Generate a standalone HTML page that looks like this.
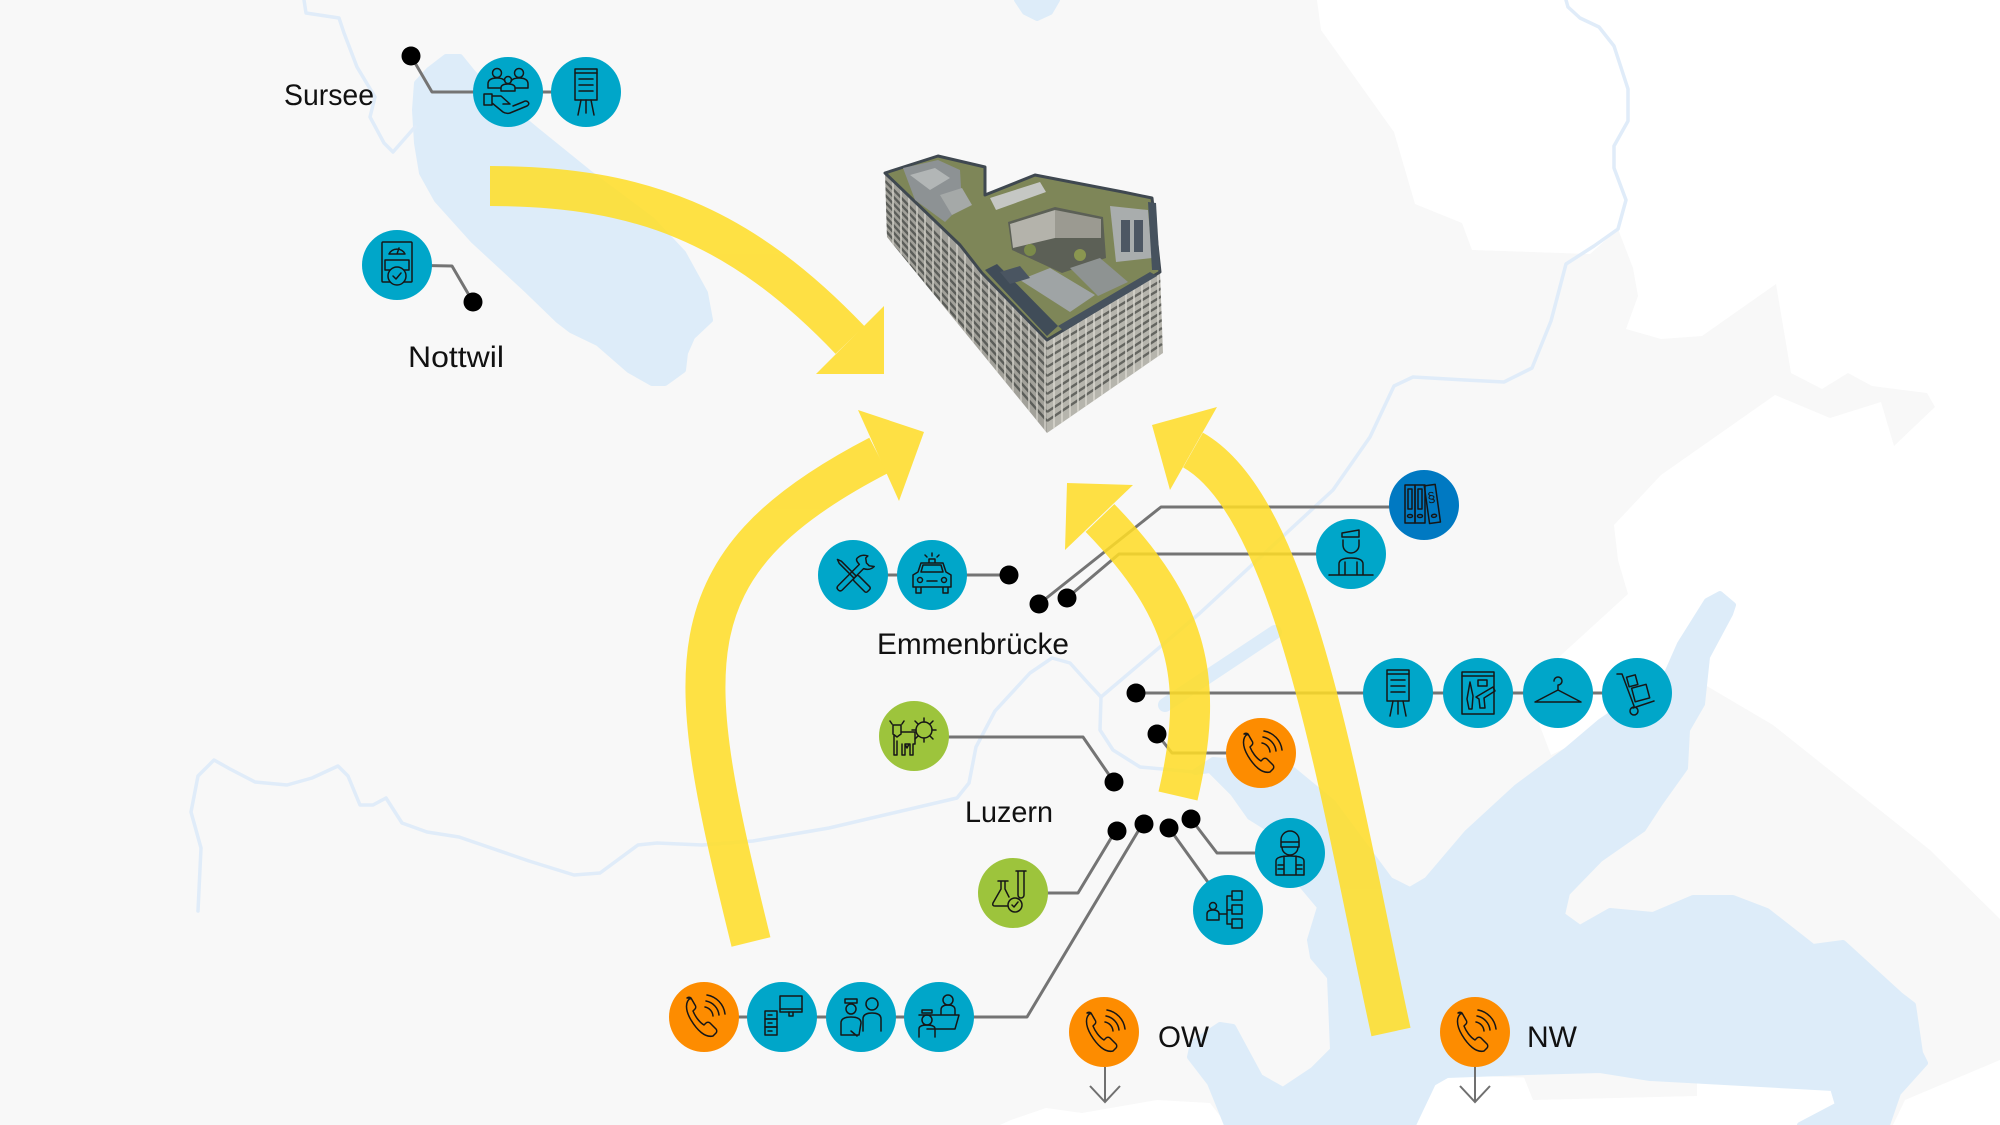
<!DOCTYPE html>
<html>
<head>
<meta charset="utf-8">
<style>
html,body{margin:0;padding:0;background:#f8f8f8;}
svg{display:block;}
text{font-family:"Liberation Sans",Arial,sans-serif;}
</style>
</head>
<body>
<svg xmlns="http://www.w3.org/2000/svg" width="2000" height="1125" viewBox="0 0 2000 1125">
<defs>
<clipPath id="lf"><polygon points="885,173 960,243 982,263 1047,340 1047,433 887,237"/></clipPath>
<clipPath id="rf"><polygon points="1047,340 1160,272 1163,353 1047,433"/></clipPath>
</defs>
<rect width="2000" height="1125" fill="#f8f8f8"/>

<!-- white areas outside canton -->
<path fill="#ffffff" d="M1317,0 L2000,0 L2000,919 L1930,850 L1773,725 L1700,682 L1551,755 L1530,700 L1559,657 L1628,594 L1618,560 L1614,525 L1661,475 L1775,395 L1830,418 L1881,402 L1894,446 L1935,407 L1927,393 L1872,386 L1848,373 L1822,389 L1791,373 L1776,284 L1702,336 L1661,339 L1626,329 L1638,296 L1633,268 L1618,229 L1590,254 L1472,250 L1462,223 L1415,204 L1394,132 L1321,30 Z"/>
<path fill="#ffffff" d="M2000,1060 L1905,1100 L1893,1125 L2000,1125 Z"/>
<path fill="#ffffff" d="M1413,1125 L1433,1083 L1447,1075 L1833,1088 L1838,1105 L1800,1125 Z"/>
<path fill="#f8f8f8" d="M1523,1075 L1533,1100 L1697,1096 L1697,1078 Z"/>
<path fill="#ffffff" d="M1000,1125 L1011,1120 L1046,1108 L1082,1113 L1157,1100 L1210,1103 L1227,1125 Z"/>

<!-- lakes -->
<g fill="#ddecf9" stroke="#ddecf9" stroke-width="6" stroke-linejoin="round">
<path d="M446,57 L460,57 L473,73 L500,100 L536,130 L589,173 L652,220 L683,253 L705,293 L710,320 L692,337 L685,353 L683,370 L665,383 L652,383 L629,370 L598,343 L571,330 L558,320 L527,290 L473,240 L437,200 L422,173 L417,143 L415,110 L417,83 L429,70 Z"/>
<path d="M1017,0 L1057,0 L1050,12 L1037,18 L1025,12 Z"/>
<path d="M1195,772 L1210,770 L1233,793 L1250,817 L1287,840 L1300,883 L1320,907 L1310,940 L1313,957 L1330,977 L1333,1050 L1313,1070 L1283,1090 L1260,1077 L1233,1027 L1220,1025 L1193,1043 L1190,1057 L1210,1083 L1227,1125 L1413,1125 L1433,1083 L1447,1075 L1527,1072 L1600,1070 L1650,1078 L1833,1088 L1838,1105 L1800,1125 L1887,1125 L1898,1093 L1925,1063 L1920,1053 L1913,1005 L1900,995 L1843,943 L1813,947 L1767,911 L1733,898 L1693,898 L1653,915 L1610,911 L1580,928 L1562,915 L1567,893 L1600,859 L1643,829 L1660,803 L1685,768 L1687,730 L1702,704 L1707,657 L1730,614 L1733,605 L1720,594 L1707,601 L1680,644 L1665,678 L1600,722 L1567,750 L1517,787 L1467,833 L1427,880 L1410,890 L1390,880 L1333,803 L1293,770 L1240,762 L1213,760 Z"/>
</g>
<path d="M1165,705 L1275,632" stroke="#ddecf9" stroke-width="14" stroke-linecap="round"/>

<!-- rivers -->
<g fill="none" stroke="#e0ecf9" stroke-width="3.5" stroke-linejoin="round" stroke-linecap="round">
<polyline points="304,0 306,13 339,18 344,33 357,67 375,97 370,117 384,143 393,152 415,127"/>
<polyline points="198,911 201,848 191,812 198,776 214,760 230,769 255,782 287,785 312,778 338,766 348,776 360,805 373,805 386,798 402,823 427,832 459,837 529,861 574,875 600,873 638,845 657,843 702,845 753,841 829,828 957,798 969,783 976,747 995,711 1030,673 1052,658 1070,663 1088,683 1101,697"/>
<polyline points="1101,697 1200,613 1333,490 1370,437 1394,386 1413,377 1465,380 1504,382 1532,368 1551,321 1566,264 1594,246 1618,229 1626,200 1614,168 1614,146 1628,121 1628,89 1614,46 1599,27 1580,18 1568,7 1566,0"/>
<polyline points="1101,697 1100,730 1113,750 1140,767 1195,772"/>
</g>

<!-- building -->
<g>
<polygon points="885,173 960,243 982,263 1047,340 1047,433 887,237" fill="#a2a19a"/>
<g clip-path="url(#lf)" stroke="#5b5d59" stroke-width="2.4">
<line x1="885" y1="181" x2="1047" y2="349"/><line x1="885" y1="188" x2="1047" y2="358"/>
<line x1="885" y1="195" x2="1047" y2="367"/><line x1="885" y1="202" x2="1047" y2="376"/>
<line x1="885" y1="209" x2="1047" y2="385"/><line x1="885" y1="216" x2="1047" y2="394"/>
<line x1="885" y1="223" x2="1047" y2="403"/><line x1="885" y1="230" x2="1047" y2="412"/>
<line x1="885" y1="237" x2="1047" y2="421"/>
</g>
<g clip-path="url(#lf)" stroke="#cfcec6" stroke-width="1.5">
<line x1="893" y1="170" x2="893" y2="440"/><line x1="901" y1="170" x2="901" y2="440"/><line x1="909" y1="170" x2="909" y2="440"/><line x1="917" y1="170" x2="917" y2="440"/><line x1="925" y1="170" x2="925" y2="440"/><line x1="933" y1="170" x2="933" y2="440"/><line x1="941" y1="170" x2="941" y2="440"/><line x1="949" y1="170" x2="949" y2="440"/><line x1="957" y1="170" x2="957" y2="440"/><line x1="965" y1="170" x2="965" y2="440"/><line x1="973" y1="170" x2="973" y2="440"/><line x1="981" y1="170" x2="981" y2="440"/><line x1="989" y1="170" x2="989" y2="440"/><line x1="997" y1="170" x2="997" y2="440"/><line x1="1005" y1="170" x2="1005" y2="440"/><line x1="1013" y1="170" x2="1013" y2="440"/><line x1="1021" y1="170" x2="1021" y2="440"/><line x1="1029" y1="170" x2="1029" y2="440"/><line x1="1037" y1="170" x2="1037" y2="440"/><line x1="1045" y1="170" x2="1045" y2="440"/>
</g>
<polygon points="1047,340 1160,272 1163,353 1047,433" fill="#b6b5ad"/>
<g clip-path="url(#rf)" stroke="#646560" stroke-width="2.4">
<line x1="1047" y1="349" x2="1162" y2="280"/><line x1="1047" y1="358" x2="1162" y2="288"/>
<line x1="1047" y1="367" x2="1162" y2="296"/><line x1="1047" y1="376" x2="1162" y2="304"/>
<line x1="1047" y1="385" x2="1162" y2="312"/><line x1="1047" y1="394" x2="1162" y2="320"/>
<line x1="1047" y1="403" x2="1162" y2="328"/><line x1="1047" y1="412" x2="1162" y2="336"/>
<line x1="1047" y1="421" x2="1162" y2="344"/>
</g>
<g clip-path="url(#rf)" stroke="#d8d7cf" stroke-width="1.5">
<line x1="1054" y1="260" x2="1054" y2="440"/><line x1="1062" y1="260" x2="1062" y2="440"/><line x1="1070" y1="260" x2="1070" y2="440"/><line x1="1078" y1="260" x2="1078" y2="440"/><line x1="1086" y1="260" x2="1086" y2="440"/><line x1="1094" y1="260" x2="1094" y2="440"/><line x1="1102" y1="260" x2="1102" y2="440"/><line x1="1110" y1="260" x2="1110" y2="440"/><line x1="1118" y1="260" x2="1118" y2="440"/><line x1="1126" y1="260" x2="1126" y2="440"/><line x1="1134" y1="260" x2="1134" y2="440"/><line x1="1142" y1="260" x2="1142" y2="440"/><line x1="1150" y1="260" x2="1150" y2="440"/><line x1="1158" y1="260" x2="1158" y2="440"/>
</g>
<!-- roof -->
<polygon points="885,173 938,156 985,167 985,195 1035,175 1123,192 1152,198 1160,272 1047,340 982,273 960,245" fill="#7e8658" stroke="#3f4850" stroke-width="3" stroke-linejoin="round"/>
<!-- left wing roof structures -->
<polygon points="903,168 938,160 960,170 962,205 945,222 915,200" fill="#8d9294"/>
<polygon points="910,175 935,168 950,178 930,190" fill="#b2b6b6"/>
<polygon points="940,195 962,188 972,205 952,215" fill="#a5a9a8"/>
<!-- middle gray boxes -->
<polygon points="990,198 1040,182 1046,192 996,210" fill="#c5c7c4"/>
<!-- courtyard -->
<polygon points="1008,222 1055,207 1103,217 1106,258 1062,273 1012,250" fill="#5c6056"/>
<polygon points="1010,224 1055,210 1055,238 1013,248" fill="#b4b3ab"/>
<polygon points="1055,210 1101,219 1101,238 1055,238" fill="#9b9a91"/>
<circle cx="1030" cy="250" r="6" fill="#7b8a4a"/><circle cx="1080" cy="255" r="6" fill="#8a9650"/>
<!-- right wing -->
<polygon points="1110,206 1148,210 1152,258 1116,262" fill="#a9adad"/>
<rect x="1121" y="220" width="9" height="32" fill="#4d5763"/>
<rect x="1134" y="220" width="9" height="32" fill="#4d5763"/>
<polygon points="1148,202 1156,203 1160,270 1152,270" fill="#46525e"/>
<!-- front block roof -->
<polygon points="985,270 997,264 1058,326 1047,336" fill="#404c58"/>
<polygon points="1058,326 1150,272 1157,276 1064,331" fill="#46525e"/>
<polygon points="1020,280 1050,268 1095,295 1070,312" fill="#9fa4a5"/>
<polygon points="1070,268 1100,258 1128,282 1098,296" fill="#8e9392"/>
<polygon points="1000,272 1020,266 1030,278 1010,284" fill="#4a5561"/>
</g>

<!-- connector lines -->
<g stroke="#747474" stroke-width="3" fill="none" stroke-linejoin="round">
<polyline points="411,56 432,92 586,92"/>
<polyline points="397,265 452,266 473,302"/>
<polyline points="853,575 1009,575"/>
<polyline points="1039,604 1161,507 1424,507"/>
<polyline points="1067,598 1119,554 1351,554"/>
<polyline points="1136,693 1637,693"/>
<polyline points="1157,734 1172,753 1261,753"/>
<polyline points="914,737 1083,737 1114,782"/>
<polyline points="1116,830 1078,893 1013,893"/>
<polyline points="1143,823 1027,1017 704,1017"/>
<polyline points="1169,828 1228,910"/>
<polyline points="1191,819 1217,853 1290,853"/>
</g>
<g stroke="#707070" stroke-width="2" fill="none">
<path d="M1105,1067 V1102 M1090,1086 L1105,1102 L1120,1086"/>
<path d="M1475,1067 V1102 M1460,1086 L1475,1102 L1490,1086"/>
</g>

<!-- dots -->
<g fill="#000">
<circle cx="411" cy="56" r="9.5"/><circle cx="473" cy="302" r="9.5"/>
<circle cx="1009" cy="575" r="9.5"/><circle cx="1039" cy="604" r="9.5"/><circle cx="1067" cy="598" r="9.5"/>
<circle cx="1136" cy="693" r="9.5"/><circle cx="1157" cy="734" r="9.5"/><circle cx="1114" cy="782" r="9.5"/>
<circle cx="1117" cy="831" r="9.5"/><circle cx="1144" cy="824" r="9.5"/><circle cx="1169" cy="828" r="9.5"/><circle cx="1191" cy="819" r="9.5"/>
</g>

<!-- yellow arrows -->
<g opacity="0.86">
<path d="M490,186 C640,186 740,225 850,340" stroke="#ffdd27" stroke-width="40" fill="none"/>
<polygon points="816,374 884,306 884,374" fill="#ffdd27"/>
<path d="M751,942 C684,670 665,566 878.5,455.5" stroke="#ffdd27" stroke-width="40" fill="none"/>
<polygon points="924,432 899,501 858,410" fill="#ffdd27"/>
<path d="M1178,796 C1205,680 1190,611 1100,518" stroke="#ffdd27" stroke-width="40" fill="none"/>
<polygon points="1067,483 1133,485 1065,550" fill="#ffdd27"/>
<path d="M1391,1032 C1340,800 1297,509 1193,450" stroke="#ffdd27" stroke-width="40" fill="none"/>
<polygon points="1152,425 1217,407 1170,490" fill="#ffdd27"/>
</g>

<!-- circles -->
<g fill="#00a6c9">
<circle cx="508" cy="92" r="35"/><circle cx="586" cy="92" r="35"/>
<circle cx="397" cy="265" r="35"/>
<circle cx="853" cy="575" r="35"/><circle cx="932" cy="575" r="35"/>
<circle cx="1351" cy="554" r="35"/>
<circle cx="1398" cy="693" r="35"/><circle cx="1478" cy="693" r="35"/><circle cx="1558" cy="693" r="35"/><circle cx="1637" cy="693" r="35"/>
<circle cx="1228" cy="910" r="35"/><circle cx="1290" cy="853" r="35"/>
<circle cx="782" cy="1017" r="35"/><circle cx="861" cy="1017" r="35"/><circle cx="939" cy="1017" r="35"/>
</g>
<circle cx="1424" cy="505" r="35" fill="#0079c2"/>
<g fill="#fd8c00">
<circle cx="1261" cy="753" r="35"/><circle cx="704" cy="1017" r="35"/>
<circle cx="1104" cy="1032" r="35"/><circle cx="1475" cy="1032" r="35"/>
</g>
<g fill="#9dc43c">
<circle cx="914" cy="736" r="35"/><circle cx="1013" cy="893" r="35"/>
</g>

<!-- icons -->
<g stroke="#161616" stroke-width="1.5" fill="none" stroke-linejoin="round" stroke-linecap="round">
<g transform="translate(508,92)">
<circle cx="-11" cy="-19" r="4.5"/><circle cx="11" cy="-19" r="4.5"/><circle cx="0" cy="-12" r="3.5"/>
<path d="M-20,-4 v-4 q0,-6 9,-6 q6,0 8,3 M20,-4 v-4 q0,-6 -9,-6 q-6,0 -8,3 M-7,-1 v-3 q0,-4 7,-4 q7,0 7,4 v3 z M-20,-4 h13 M7,-4 h13"/>
<path d="M-24,2 h8 v11 h-8 z M-16,4 h9 l9,8 h-7 M-16,11 l11,9 q3,2 7,1 l17,-7 q3,-2 1,-4 q-2,-2 -5,0 l-10,4"/>
</g>
<g transform="translate(586,92)"><rect x="-11" y="-23" width="22" height="31"/><path d="M-11,-19 h22 M-7,-13 h14 M-7,-7 h14 M-7,-1 h14 M-5,8 l-3,15 M5,8 l3,15 M0,8 v13"/></g>
<g transform="translate(1398,693)"><rect x="-11" y="-23" width="22" height="31"/><path d="M-11,-19 h22 M-7,-13 h14 M-7,-7 h14 M-7,-1 h14 M-5,8 l-3,15 M5,8 l3,15 M0,8 v13"/></g>
<g transform="translate(397,265)"><rect x="-15" y="-23" width="30" height="40" rx="1"/><path d="M-8,-11 a9,9 0 0 1 16,0 z M0,-11 l2,-6"/><rect x="-12" y="-5" width="24" height="10"/><circle cx="0" cy="11" r="9" fill="#00a6c9"/><path d="M-4,11 l3,3 l5,-6"/></g>
<g transform="translate(853,575)">
<g transform="rotate(45)"><path d="M-3,-12 v30 q0,3 3,3 q3,0 3,-3 v-30 q6,-3 6,-9 l-4,3 h-4 l-4,-3 l0,-3 q-6,3 -6,9 q0,3 6,3 z"/></g>
<g transform="rotate(-45)"><rect x="-3.5" y="3" width="7" height="19" rx="2"/><path d="M-1.5,3 v-21 l1.5,-4 l1.5,4 v21"/></g>
</g>
<g transform="translate(932,575)"><path d="M-19,12 v-12 l5,-3 l3,-9 h22 l3,9 l5,3 v12 z M-11,-3 l2,-7 h18 l2,7 z M-16,12 v6 h5 v-6 M11,12 v6 h5 v-6 M-5,6 h10 M-3,-12 v-4 h6 v4 M0,-19 v-3 M-5,-18 l-2,-2 M5,-18 l2,-2"/><circle cx="-12" cy="5" r="2.5"/><circle cx="12" cy="5" r="2.5"/></g>
<g transform="translate(1424,505)">
<rect x="-19" y="-20" width="10" height="38"/><rect x="-9" y="-20" width="10" height="38"/>
<rect x="-16" y="-16" width="4" height="20"/><rect x="-6" y="-16" width="4" height="20"/>
<ellipse cx="-14" cy="11" rx="2.5" ry="1.5"/><ellipse cx="-4" cy="11" rx="2.5" ry="1.5"/>
<g transform="rotate(-8 8 0)"><rect x="3" y="-20" width="11" height="38"/><ellipse cx="8.5" cy="11" rx="2.5" ry="1.5"/></g>
</g>
<g transform="translate(1351,554)"><path d="M-9,-21 l17,-3 v7 h-17 z M-8,-14 v5 a8,8 0 0 0 16,0 v-5 M-12,21 v-11 q0,-6 12,-6 q12,0 12,6 v11 M-6,21 v-13 M6,21 v-13 M-22,21 h44"/></g>
<g transform="translate(1478,693)"><rect x="-16" y="-21" width="32" height="42"/><path d="M-16,-17 h32 M-9,16 l-2,-10 l3,-17 l3,14 l-1,13 z M-2,4 l17,-10 l2,4 l-11,7 l1,10 h-5 l-1,-9 z"/><rect x="0" y="-13" width="9" height="6"/></g>
<g transform="translate(1558,693)"><path d="M0,-3 v-5 a4,4 0 1 0 -4,-4 M0,-3 L-23,9 h46 z"/></g>
<g transform="translate(1637,693)"><path d="M-20,-19 h5 l12,32 M-4,15 l21,-7"/><circle cx="-3" cy="18" r="4"/><rect x="-6" y="-18" width="9" height="10" transform="rotate(-15)"/><rect x="-4" y="-6" width="15" height="14" transform="rotate(-15)"/></g>
<g transform="translate(1261,753)"><path d="M-13,-19 c-6,3 -6,12 0,22 c6,10 14,18 22,16 l3,-3 c1,-1 1,-3 0,-4 l-6,-6 c-1,-1 -3,-1 -4,0 l-2,2 c-5,-3 -9,-9 -11,-14 l2,-2 c1,-1 1,-3 0,-4 l-4,-7 c-1,-1 -3,-1 -4,0 z M1,-10 a10,10 0 0 1 8,9 M2,-16 a16,16 0 0 1 13,14 M3,-22 a22,22 0 0 1 18,19"/></g>
<g transform="translate(704,1017)"><path d="M-13,-19 c-6,3 -6,12 0,22 c6,10 14,18 22,16 l3,-3 c1,-1 1,-3 0,-4 l-6,-6 c-1,-1 -3,-1 -4,0 l-2,2 c-5,-3 -9,-9 -11,-14 l2,-2 c1,-1 1,-3 0,-4 l-4,-7 c-1,-1 -3,-1 -4,0 z M1,-10 a10,10 0 0 1 8,9 M2,-16 a16,16 0 0 1 13,14 M3,-22 a22,22 0 0 1 18,19"/></g>
<g transform="translate(1104,1032)"><path d="M-13,-19 c-6,3 -6,12 0,22 c6,10 14,18 22,16 l3,-3 c1,-1 1,-3 0,-4 l-6,-6 c-1,-1 -3,-1 -4,0 l-2,2 c-5,-3 -9,-9 -11,-14 l2,-2 c1,-1 1,-3 0,-4 l-4,-7 c-1,-1 -3,-1 -4,0 z M1,-10 a10,10 0 0 1 8,9 M2,-16 a16,16 0 0 1 13,14 M3,-22 a22,22 0 0 1 18,19"/></g>
<g transform="translate(1475,1032)"><path d="M-13,-19 c-6,3 -6,12 0,22 c6,10 14,18 22,16 l3,-3 c1,-1 1,-3 0,-4 l-6,-6 c-1,-1 -3,-1 -4,0 l-2,2 c-5,-3 -9,-9 -11,-14 l2,-2 c1,-1 1,-3 0,-4 l-4,-7 c-1,-1 -3,-1 -4,0 z M1,-10 a10,10 0 0 1 8,9 M2,-16 a16,16 0 0 1 13,14 M3,-22 a22,22 0 0 1 18,19"/></g>
<g transform="translate(914,736)"><path d="M-22,-12 l-2,-3 M-12,-12 l2,-3 M-21,-11 h8 v9 l-4,3 l-4,-3 z M-13,-4 h14 v12 h-2 v11 h-3 v-11 h-5 v11 h-3 v-11 M-20,-1 v20 h3 v-14 M-9,8 l2,4 l2,-4"/><circle cx="10" cy="-6" r="8"/><path d="M10,-14 v-4 M10,2 v4 M2,-6 h-4 M18,-6 h4 M4,-12 l-3,-3 M16,-12 l3,-3 M4,0 l-3,3 M16,0 l3,3"/></g>
<g transform="translate(1013,893)"><path d="M-12,-12 v8 l-8,14 q-1,3 2,3 h12 M-15,-12 h10 M-8,-12 v8 l4,8"/><path d="M3,-22 h10 M5,-22 v24 a3,3 0 0 0 6,0 v-24"/><circle cx="2" cy="12" r="7"/><path d="M-1,12 l2,2 l4,-5"/></g>
<g transform="translate(1228,910)"><circle cx="-15" cy="-4" r="3.5"/><path d="M-21,10 v-6 q0,-4 6,-4 q6,0 6,4 v6 z M-9,4 h8 M-1,-14 v28 M-1,-14 h5 M-1,0 h5 M-1,14 h5"/><rect x="4" y="-19" width="10" height="9"/><rect x="4" y="-5" width="10" height="9"/><rect x="4" y="9" width="10" height="9"/></g>
<g transform="translate(1290,853)"><path d="M-9,-13 a9,9 0 0 1 18,0 v2 h-18 z M-9,-11 v5 h18 v-5 M-8,-6 a8,8 0 0 0 16,0 M-14,22 v-14 q0,-5 14,-5 q14,0 14,5 v14 z M-6,3 v19 M6,3 v19 M-12,12 h6 M6,12 h6 M-12,16 h6 M6,16 h6"/></g>
<g transform="translate(782,1017)"><rect x="-2" y="-21" width="22" height="16"/><path d="M-2,-8 h22 M7,-5 v4 h4 v-4"/><rect x="-17" y="-6" width="12" height="8"/><rect x="-17" y="2" width="12" height="8"/><rect x="-17" y="10" width="12" height="8"/><path d="M-14,-2 h4 M-14,6 h4 M-14,14 h4"/></g>
<g transform="translate(861,1017)"><path d="M-16,-18 h12 v4 h-12 z"/><circle cx="-10" cy="-8" r="5"/><circle cx="11" cy="-13" r="6"/><path d="M-20,18 v-12 q0,-6 10,-6 q10,0 10,6 l-2,12 z M2,14 v-12 q0,-6 9,-6 q9,0 9,6 v12 M-10,14 l6,5"/></g>
<g transform="translate(939,1017)"><circle cx="9" cy="-17" r="5"/><path d="M2,-3 v-4 q0,-5 7,-5 q7,0 7,5 v4 M-20,-2 h40 l-4,14 h-28 M-17,-4 h10 v-3 h-10 z"/><circle cx="-12" cy="3" r="5"/><path d="M-20,20 v-8 q0,-4 8,-4 q8,0 8,4 v8"/></g>
</g>
<text x="1432" y="502" font-size="14" fill="#161616" text-anchor="middle" transform="rotate(-8 1432 502)">§</text>

<!-- labels -->
<g fill="#111" font-size="30">
<text x="284" y="105" textLength="90" lengthAdjust="spacingAndGlyphs">Sursee</text>
<text x="408" y="367" textLength="96" lengthAdjust="spacingAndGlyphs">Nottwil</text>
<text x="877" y="654" textLength="192" lengthAdjust="spacingAndGlyphs">Emmenbrücke</text>
<text x="965" y="822" textLength="88" lengthAdjust="spacingAndGlyphs">Luzern</text>
<text x="1158" y="1047" textLength="51" lengthAdjust="spacingAndGlyphs">OW</text>
<text x="1527" y="1047" textLength="50" lengthAdjust="spacingAndGlyphs">NW</text>
</g>
</svg>
</body>
</html>
